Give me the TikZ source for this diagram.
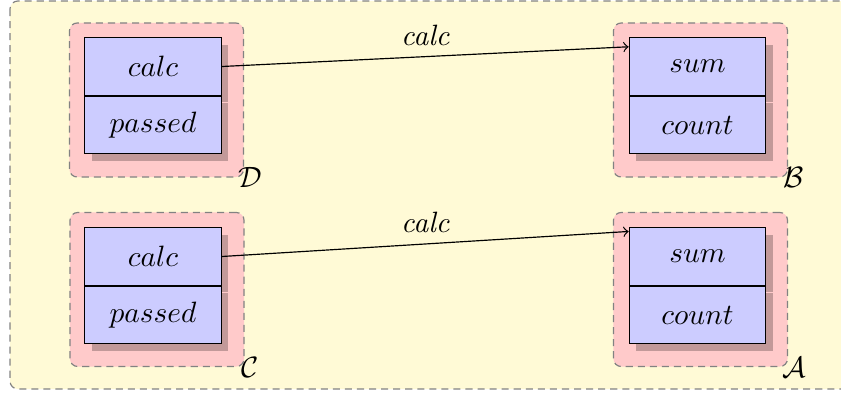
\documentclass[tikz,border=0pt]{standalone}
\usetikzlibrary{shadows,calc}
\definecolor{bgyellow}{RGB}{255,250,214}
\definecolor{pinkfill}{RGB}{255,202,202}
\definecolor{bluefill}{RGB}{204,204,255}
\definecolor{dashgray}{RGB}{130,130,130}
\tikzset{
  outerbox/.style={draw=dashgray, fill=bgyellow, dash pattern=on 2.4pt off 1.7pt, line width=0.4pt, rounded corners=2.7pt},
  pinkbox/.style={draw=dashgray, fill=pinkfill, dash pattern=on 2.4pt off 1.7pt, line width=0.4pt, rounded corners=2.7pt,
    minimum width=59.2pt, minimum height=52.4pt, inner sep=0pt},
  compbox/.style={draw=black, fill=bluefill, line width=0.4pt, minimum width=46.4pt, minimum height=19.5pt, inner sep=0pt,
    drop shadow={shadow xshift=2.4pt, shadow yshift=-2.4pt, fill=black, opacity=0.24}},
  setlabel/.style={inner sep=0pt, xshift=2pt},
  edgelabel/.style={font=\itshape, above, inner sep=0pt, yshift=3.6pt},
  link/.style={->, line width=0.4pt}
}
\begin{document}
\begin{tikzpicture}[x=0.34pt, y=-0.34pt]
\useasboundingbox (0,0) rectangle (841,394);
\path[outerbox] (10,1) rectangle (860,389);
% pink containers
\node[pinkbox] (pD) at (156.5,100) {};
\node[pinkbox] (pB) at (700.5,100) {};
\node[pinkbox] (pC) at (157,289.5) {};
\node[pinkbox] (pA) at (700.5,289.5) {};
% compartments
\node[compbox] (dcalc) at (153,66.5) {$calc$};
\node[compbox, anchor=north] (dpassed) at (dcalc.south) {$passed$};
\node[compbox] (bsum) at (697.5,66.5) {$sum$};
\node[compbox, anchor=north] (bcount) at (bsum.south) {$count$};
\node[compbox] (ccalc) at (153,256.5) {$calc$};
\node[compbox, anchor=north] (cpassed) at (ccalc.south) {$passed$};
\node[compbox] (asum) at (697.5,256.5) {$sum$};
\node[compbox, anchor=north] (acount) at (asum.south) {$count$};
% set labels
\node[setlabel] (lD) at (pD.south east) {$\mathcal{D}$};
\node[setlabel] (lB) at (pB.south east) {$\mathcal{B}$};
\node[setlabel] (lC) at (pC.south east) {$\mathcal{C}$};
\node[setlabel] (lA) at (pA.south east) {$\mathcal{A}$};
% connectors
\draw[link] (dcalc.east) -- node[edgelabel] (e1) {calc} (bsum.164);
\draw[link] (ccalc.east) -- node[edgelabel] (e2) {calc} (asum.160);
\end{tikzpicture}
\end{document}
